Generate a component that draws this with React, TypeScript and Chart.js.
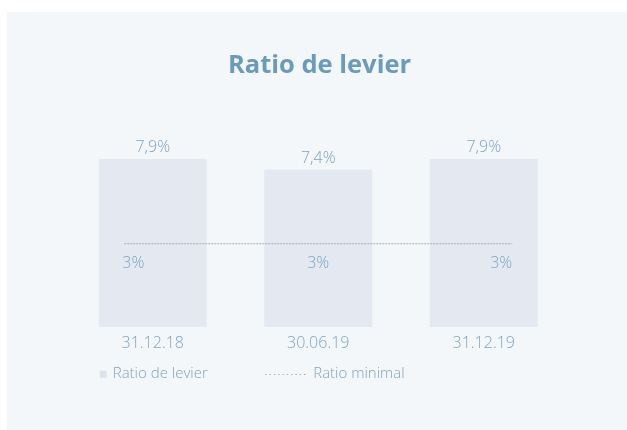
import React, { useEffect, useRef } from 'react';
import { Chart, registerables } from 'chart.js';

Chart.register(...registerables);

const chartTitle = 'Ratio de levier';
const categories = ['31.12.18', '30.06.19', '31.12.19'];
const leverageRatio = [7.9, 7.4, 7.9];
const minimalRatio = [3, 3, 3];
const seriesNames = ['Ratio de levier', 'Ratio minimal'];

const TEXT = '#7fa4c0';
const TITLE = '#6b9bb9';
const BAR = '#e4e9f1';
const LINE = '#a9acb0';
const PANEL = '#f3f7fa';
const FONT = "'Open Sans', 'Noto Sans', sans-serif";

const fmt = (v: number) => String(v).replace('.', ',') + '%';

const labelsPlugin = {
  id: 'customLabels',
  afterDatasetsDraw(chart: any) {
    const ctx = chart.ctx;
    ctx.save();
    // title
    ctx.fillStyle = TITLE;
    ctx.font = `bold 25.5px ${FONT}`;
    ctx.textAlign = 'center';
    ctx.textBaseline = 'alphabetic';
    ctx.fillText(chartTitle, 312.5, 61.3);

    ctx.fillStyle = TEXT;
    ctx.font = `300 16px ${FONT}`;
    ctx.textBaseline = 'middle';
    // bar values
    const barMeta = chart.getDatasetMeta(0);
    barMeta.data.forEach((el: any, i: number) => {
      ctx.textAlign = 'center';
      ctx.fillText(fmt(leverageRatio[i]), el.x, el.y - 11);
    });
    // minimal ratio values
    const lineMeta = chart.getDatasetMeta(1);
    const n = lineMeta.data.length;
    lineMeta.data.forEach((el: any, i: number) => {
      ctx.textAlign = i === 0 ? 'left' : i === n - 1 ? 'right' : 'center';
      const dx = i === 0 ? -2 : 0;
      ctx.fillText(fmt(minimalRatio[i]), el.x + dx, el.y + 19.5);
    });
    // legend
    const y = chart.scales.x.bottom + 14;
    ctx.font = `300 15px ${FONT}`;
    ctx.textAlign = 'left';
    const b0 = barMeta.data[0];
    const b1 = barMeta.data[1];
    const l0 = b0.x - b0.width / 2;
    const l1 = b1.x - b1.width / 2;
    ctx.fillStyle = '#dde3ec';
    ctx.fillRect(l0 + 1, y - 3.5, 7, 7);
    ctx.fillStyle = TEXT;
    ctx.fillText(seriesNames[0], l0 + 14, y);
    ctx.strokeStyle = LINE;
    ctx.lineWidth = 1;
    ctx.setLineDash([1.4, 2.9]);
    ctx.beginPath();
    ctx.moveTo(l1 + 1, Math.round(y) + 0.5);
    ctx.lineTo(l1 + 44, Math.round(y) + 0.5);
    ctx.stroke();
    ctx.setLineDash([]);
    ctx.fillText(seriesNames[1], l1 + 49, y);
    ctx.restore();
  },
};

export default function App() {
  const ref = useRef<HTMLCanvasElement>(null);
  useEffect(() => {
    if (!ref.current) return;
    const chart = new Chart(ref.current, {
      type: 'bar',
      data: {
        labels: categories,
        datasets: [
          {
            type: 'bar',
            label: seriesNames[0],
            data: leverageRatio,
            backgroundColor: BAR,
            barPercentage: 1,
            categoryPercentage: 0.6526,
            grouped: false,
            xAxisID: 'x',
            yAxisID: 'y',
            order: 1,
          } as any,
          {
            type: 'line',
            label: seriesNames[1],
            data: minimalRatio.map((v, i) => ({ x: i, y: v })),
            xAxisID: 'x1',
            yAxisID: 'y1',
            borderColor: LINE,
            borderWidth: 1,
            borderDash: [2, 1],
            pointRadius: 0,
            fill: false,
            order: 0,
          } as any,
        ],
      },
      options: {
        responsive: false,
        animation: false,
        layout: { padding: { left: 63, right: 60.5, top: 123.5, bottom: 69.8 } },
        plugins: {
          legend: { display: false },
          tooltip: { enabled: false },
          title: { display: false },
        },
        scales: {
          x: {
            type: 'category',
            offset: true,
            grid: { display: false, drawTicks: false },
            border: { display: false },
            ticks: { color: TEXT, font: { family: FONT, size: 16, weight: 300 }, padding: 7 },
          },
          y: { type: 'linear', display: false, min: 0, max: 9 },
          x1: { type: 'linear', axis: 'x', position: 'bottom', offset: false, display: false, min: -0.28, max: 2.28 },
          y1: { type: 'linear', axis: 'y', position: 'left', display: false, min: 0, max: 6.9 },
        },
      } as any,
      plugins: [labelsPlugin],
    });
    return () => chart.destroy();
  }, []);
  return (
    <div
      style={{
        position: 'absolute',
        left: 7,
        top: 12,
        width: 620,
        height: 418,
        background: PANEL,
      }}
    >
      <canvas ref={ref} width={620} height={418} style={{ display: 'block' }} />
    </div>
  );
}
